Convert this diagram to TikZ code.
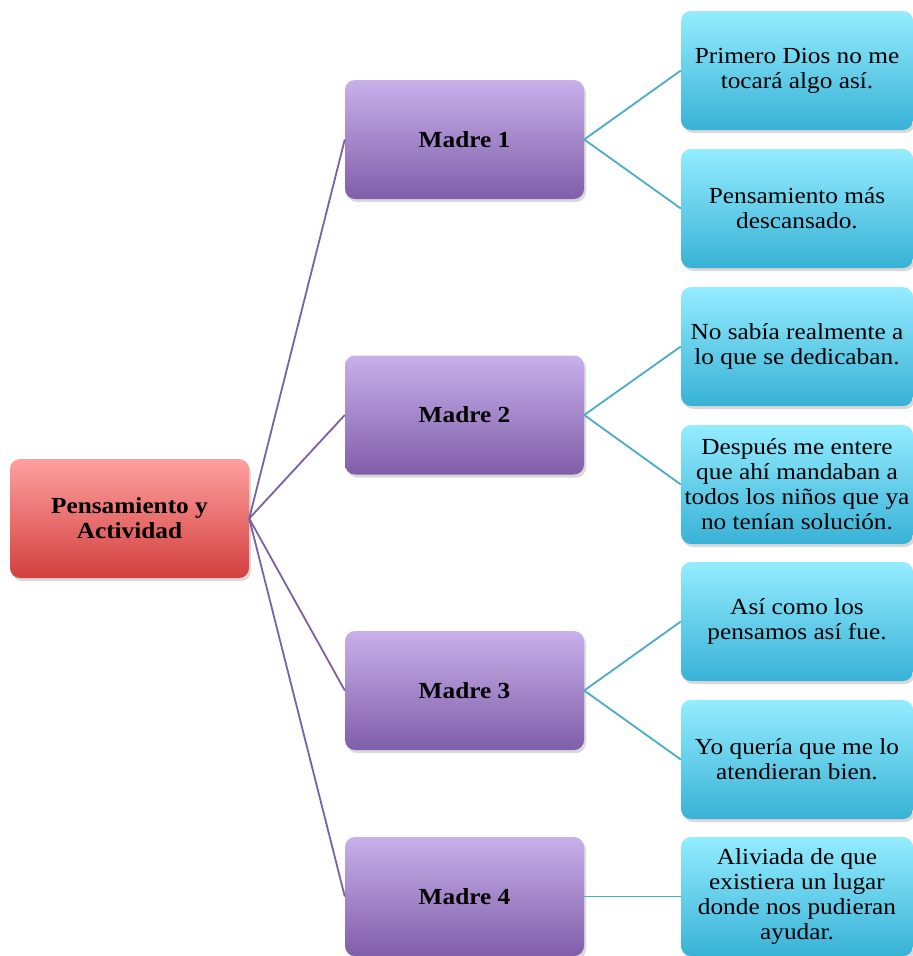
\documentclass[tikz,border=0pt]{standalone}
\usepackage{fontspec}
\setmainfont{Liberation Serif}[FakeStretch=1.1]
\usetikzlibrary{shadows}
\definecolor{rootTop}{RGB}{255,160,160}
\definecolor{rootBottom}{RGB}{210,64,62}
\definecolor{madreTop}{RGB}{200,176,234}
\definecolor{madreBottom}{RGB}{128,94,170}
\definecolor{ideaTop}{RGB}{148,236,255}
\definecolor{ideaBottom}{RGB}{56,178,214}
\definecolor{madreLine}{RGB}{124,96,164}
\definecolor{ideaLine}{RGB}{75,172,198}
\begin{document}
\begin{tikzpicture}[x=1pt,y=-1pt,
  box/.style={rounded corners=10pt,align=center,minimum height=119pt,
    font=\fontsize{23}{25}\selectfont,
    drop shadow={opacity=0.3,shadow xshift=2pt,shadow yshift=-3pt}},
  root/.style={box,minimum width=239pt,top color=rootTop,bottom color=rootBottom,font=\fontsize{23}{25}\selectfont\bfseries},
  madre/.style={box,minimum width=239pt,top color=madreTop,bottom color=madreBottom,font=\fontsize{23}{25}\selectfont\bfseries},
  idea/.style={box,minimum width=232pt,top color=ideaTop,bottom color=ideaBottom},
  madre-line/.style={draw=madreLine,line width=1.8pt},
  idea-line/.style={draw=ideaLine,line width=1.8pt}]
\useasboundingbox (0,0) rectangle (913,956);
\node[root](pensamiento) at (129.5,518.5){Pensamiento y\\Actividad};
\node[madre](madre-1) at (464.5,139.5){Madre 1};
\node[madre](madre-2) at (464.5,415){Madre 2};
\node[madre](madre-3) at (464.5,690.5){Madre 3};
\node[madre](madre-4) at (464.5,896.5){Madre 4};
\node[idea](idea-1a) at (797,70.5){Primero Dios no me\\tocará algo así.};
\node[idea](idea-1b) at (797,208.5){Pensamiento más\\descansado.};
\node[idea](idea-2a) at (797,346.5){No sabía realmente a\\lo que se dedicaban.};
\node[idea](idea-2b) at (797,484.5){Después me entere\\que ahí mandaban a\\todos los niños que ya\\no tenían solución.};
\node[idea](idea-3a) at (797,621.5){Así como los\\pensamos así fue.};
\node[idea](idea-3b) at (797,759.5){Yo quería que me lo\\atendieran bien.};
\node[idea](idea-4a) at (797,896.5){Aliviada de que\\existiera un lugar\\donde nos pudieran\\ayudar.};
\draw[madre-line] (pensamiento.east) to (madre-1.west);
\draw[madre-line] (pensamiento.east) to (madre-2.west);
\draw[madre-line] (pensamiento.east) to (madre-3.west);
\draw[madre-line] (pensamiento.east) to (madre-4.west);
\draw[idea-line] (madre-1.east) to (idea-1a.west);
\draw[idea-line] (madre-1.east) to (idea-1b.west);
\draw[idea-line] (madre-2.east) to (idea-2a.west);
\draw[idea-line] (madre-2.east) to (idea-2b.west);
\draw[idea-line] (madre-3.east) to (idea-3a.west);
\draw[idea-line] (madre-3.east) to (idea-3b.west);
\draw[idea-line] (madre-4.east) to (idea-4a.west);
\end{tikzpicture}
\end{document}
